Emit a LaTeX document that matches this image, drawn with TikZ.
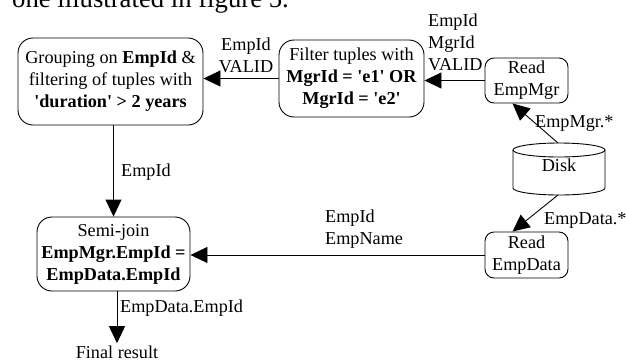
\documentclass[tikz,border=0pt]{standalone}
\usepackage{fontspec}
\setmainfont{Liberation Serif}
\usetikzlibrary{arrows.meta,calc}
\newcommand{\sq}{\textquotesingle}
\begin{document}
\begin{tikzpicture}[x=1pt,y=1pt,
  font=\fontsize{18.2}{22}\selectfont,
  box/.style={draw,line width=0.9pt,rounded corners=15pt,align=center,inner sep=0pt},
  smallbox/.style={draw,line width=0.9pt,rounded corners=9pt,align=center,inner sep=0pt},
  lbl/.style={inner sep=0pt,align=left},
  conn/.style={line width=0.9pt,-{Triangle[length=17pt,width=16pt]}}]
\useasboundingbox (0,0) rectangle (626,-360);
\begin{scope}
\clip (0,0) rectangle (626,-360);
\node[anchor=base west,inner sep=0pt,font=\fontsize{26.7}{30}\selectfont] (intro) at (12,-7.3) {one illustrated in figure 5.};
\end{scope}
% nodes
\node[box,minimum width=185pt,minimum height=87pt] (grp) at (110.5,-81.5)
  {Grouping on \textbf{EmpId} \&\\filtering of tuples with\\\textbf{\sq duration\sq{} > 2 years}};
\node[box,minimum width=145pt,minimum height=77pt] (flt) at (351.5,-78.5)
  {Filter tuples with\\\textbf{MgrId = \sq e1\sq{} OR}\\\textbf{MgrId = \sq e2\sq}};
\node[smallbox,minimum width=83pt,minimum height=45pt] (rem) at (526.5,-80.5)
  {Read\\EmpMgr};
\node[smallbox,minimum width=83pt,minimum height=46pt] (red) at (526.5,-255)
  {Read\\EmpData};
\node[box,minimum width=153pt,minimum height=74pt] (sj) at (113.5,-254)
  {Semi-join\\\textbf{EmpMgr.EmpId =}\\\textbf{EmpData.EmpId}};
\node[inner sep=2pt,anchor=base] (final) at (117,-358) {Final result};
% disk
\node[inner sep=0pt,minimum width=92pt,minimum height=52pt] (disk) at (559,-169) {};
\node[inner sep=0pt] (disklbl) at (559,-165) {Disk};
\draw[line width=0.9pt] (513,-150) -- (513,-188) arc[start angle=180,end angle=360,x radius=46,y radius=7] -- (605,-150);
\draw[line width=0.9pt] (559,-150) ellipse[x radius=46,y radius=7];
\coordinate (disktop) at (558,-143);
\coordinate (diskbot) at (558,-195);
% connectors
\draw[conn] (flt.west) -- (flt.west -| grp.east);
\draw[conn] (rem.west) -- (rem.west -| flt.east);
\draw[conn] (disktop) -- ([xshift=-14pt]rem.south);
\draw[conn] (diskbot) -- ([xshift=-14pt]red.north);
\draw[conn] (red.west) -- (red.west -| sj.east);
\draw[conn] (sj.north |- grp.south) -- (sj.north);
\draw[conn] (final.north |- sj.south) -- (final.north);
% labels
\node[lbl,align=center] (l1) at (246,-55) {EmpId\\VALID};
\node[lbl,anchor=west] (l2) at (428,-42) {EmpId\\MgrId\\VALID};
\node[lbl,anchor=west] (l3) at (535,-123) {EmpMgr.*};
\node[lbl,anchor=west] (l4) at (544,-220) {EmpData.*};
\node[lbl,anchor=west] (l5) at (325,-229) {EmpId\\EmpName};
\node[lbl,anchor=west] (l6) at (121,-172) {EmpId};
\node[lbl,anchor=west] (l7) at (120,-308) {EmpData.EmpId};
\end{tikzpicture}
\end{document}
